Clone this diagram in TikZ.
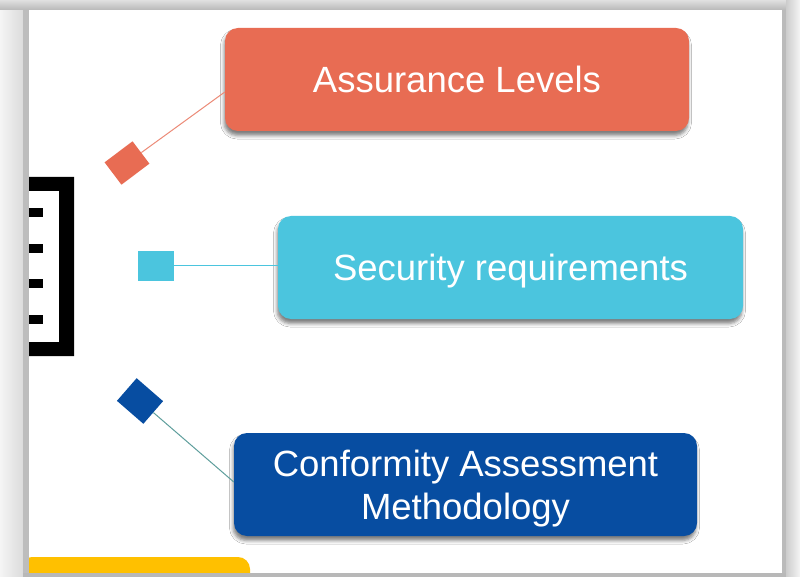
\documentclass[tikz,border=0pt]{standalone}
\usepackage{fontspec}
\setmainfont{Liberation Sans}
\usetikzlibrary{shadows.blur,calc}
\definecolor{orangeA}{HTML}{E86C53}
\definecolor{orangeL}{HTML}{EC8A77}
\definecolor{cyanA}{HTML}{4BC5DE}
\definecolor{blueA}{HTML}{074DA1}
\definecolor{tealL}{HTML}{5E9E9C}
\definecolor{yellowA}{HTML}{FFC000}
\tikzset{
  box/.style={rounded corners=13pt, text=white, inner sep=0pt, align=center,
    text depth=0pt,
    font=\fontsize{36.5}{43}\selectfont,
    blur shadow={shadow xshift=-1pt, shadow yshift=-4.5pt, shadow blur radius=3.5pt, shadow opacity=50}},
  marker/.style={inner sep=0pt, draw=none},
  link/.style={line width=1pt}
}
\begin{document}
\begin{tikzpicture}[x=1pt,y=-1pt]
\useasboundingbox (0,0) rectangle (800,577);
\fill[white] (0,0) rectangle (800,577);

% black bracket with ticks
\fill[black] (20,177) -- (74,177) -- (74,356) -- (20,356) -- (20,342) -- (59,342) -- (59,191) -- (20,191) -- cycle;
\foreach \yy in {208,244,279,315}
  \fill[black] (20,\yy) rectangle (43,\yy+9);

% yellow shape at the bottom
\fill[yellowA, rounded corners=12pt] (20,590) -- (20,557) -- (250,557) -- (250,590) -- cycle;

% boxes
\node[box, fill=orangeA, minimum width=464pt, minimum height=103pt] (ob) at (457,79.5) {Assurance Levels};
\node[box, fill=cyanA, minimum width=465pt, minimum height=103pt] (cb) at (510.5,267.5) {Security requirements};
\node[box, fill=blueA, minimum width=463pt, minimum height=103pt] (bb) at (465.5,484.5) {Conformity Assessment\\Methodology};

% markers
\node[marker, fill=orangeA, minimum width=35pt, minimum height=28pt, rotate=37] (om) at (127,163) {};
\node[marker, fill=cyanA, minimum width=36pt, minimum height=30pt] (cm) at (156,266) {};
\node[marker, fill=blueA, minimum width=30pt, minimum height=35pt, rotate=49] (bm) at (140,401) {};

% connectors
\draw[link, draw=orangeL] (om) -- ([yshift=-12.5pt]ob.west);
\draw[link, draw=cyanA] (cm.east) -- ([yshift=1.5pt]cb.west);
\draw[link, draw=tealL] (bm) -- ([yshift=2.5pt]bb.west);

% grey frame
\shade[left color=white!96!black, right color=white!86!black] (0,0) rectangle (23,577);
\fill[white!74!black] (23,10) rectangle (29,577);
\shade[top color=white!88!black, bottom color=white!72!black] (0,0) rectangle (800,10);
\fill[white!73!black] (782,10) rectangle (786,577);
\shade[left color=white!80!black, right color=white!96!black] (786,0) rectangle (800,577);
\fill[white!72!black] (23,573) rectangle (786,577);
\end{tikzpicture}
\end{document}
